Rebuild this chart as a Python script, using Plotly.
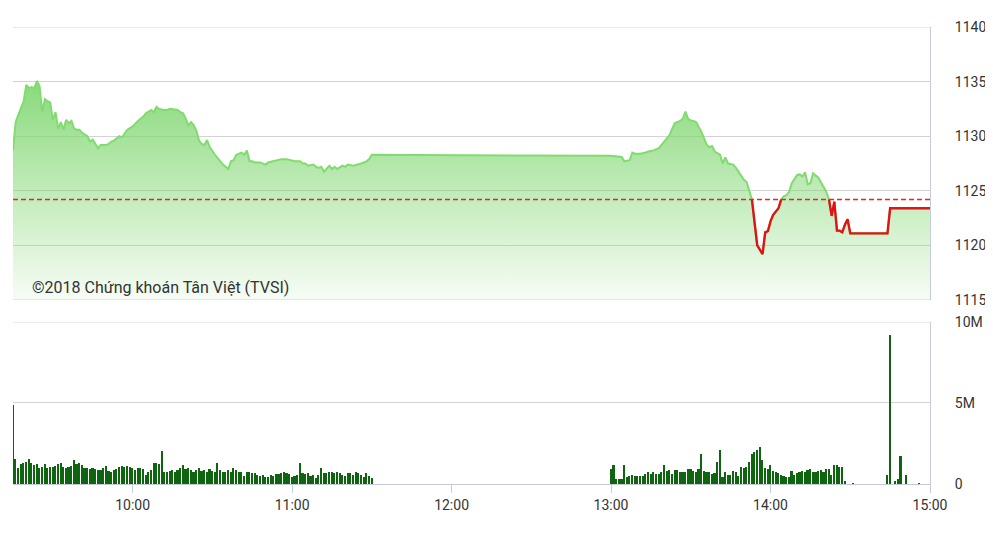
import plotly.graph_objects as go
import pandas as pd

DAY = "2018-06-12"
ref_value = 1124.2

price_times = [
    "09:15", "09:16", "09:18", "09:19", "09:20", "09:21", "09:22", "09:23", "09:24", "09:25",
    "09:26", "09:27", "09:28", "09:29", "09:30", "09:31", "09:32", "09:33", "09:34", "09:35",
    "09:36", "09:37", "09:38", "09:39", "09:40", "09:41", "09:43", "09:44", "09:45", "09:46",
    "09:47", "09:48", "09:50", "09:51", "09:52", "09:53", "09:55", "09:56", "09:57", "09:58",
    "10:00", "10:02", "10:04", "10:05", "10:07", "10:08", "10:09", "10:10", "10:12", "10:13",
    "10:14", "10:15", "10:17", "10:18", "10:19", "10:20", "10:21", "10:22", "10:23", "10:24",
    "10:25", "10:26", "10:27", "10:28", "10:29", "10:31", "10:32", "10:33", "10:34", "10:36",
    "10:37", "10:38", "10:39", "10:41", "10:42", "10:43", "10:44", "10:45", "10:46", "10:48",
    "10:50", "10:51", "10:53", "10:54", "10:56", "10:58", "11:00", "11:01", "11:03", "11:04",
    "11:05", "11:06", "11:08", "11:09", "11:10", "11:11", "11:12", "11:14", "11:15", "11:16",
    "11:17", "11:19", "11:20", "11:21", "11:23", "11:25", "11:26", "11:28", "11:29", "11:30",
    "13:00", "13:04", "13:05", "13:07", "13:08", "13:09", "13:11", "13:13", "13:14", "13:16",
    "13:18", "13:19", "13:20", "13:22", "13:23", "13:24", "13:25", "13:26", "13:27", "13:28",
    "13:29", "13:30", "13:31", "13:32", "13:34", "13:35", "13:36", "13:37", "13:38", "13:39",
    "13:41", "13:42", "13:43", "13:44", "13:46", "13:47", "13:48", "13:49", "13:50", "13:51",
    "13:52", "13:53", "13:54", "13:55", "13:57", "13:58", "13:59", "14:00", "14:01", "14:03",
    "14:04", "14:05", "14:06", "14:07", "14:08", "14:10", "14:11", "14:12", "14:13", "14:14",
    "14:15", "14:16", "14:18", "14:19", "14:20", "14:21", "14:22", "14:23", "14:24", "14:25",
    "14:26", "14:27", "14:28", "14:29", "14:30", "14:44", "14:45", "15:00",
]
price_values = [
    1128.7, 1131.3, 1132.6, 1133.2, 1134.7, 1134.4, 1134.5, 1134.4, 1135.05, 1134.6,
    1132.2, 1133.4, 1133.2, 1133.1, 1131.5, 1132.2, 1130.7, 1131.3, 1130.6, 1131.5,
    1131.2, 1131.4, 1130.7, 1130.6, 1130.6, 1130.3, 1130.0, 1129.5, 1129.7, 1129.3,
    1128.9, 1129.2, 1129.2, 1129.3, 1129.5, 1129.6, 1130.0, 1129.9, 1130.3, 1130.6,
    1130.9, 1131.4, 1131.8, 1132.1, 1132.4, 1132.2, 1132.7, 1132.5, 1132.4, 1132.4,
    1132.5, 1132.45, 1132.4, 1132.2, 1132.1, 1131.6, 1131.0, 1131.3, 1131.0, 1130.5,
    1129.6, 1129.3, 1129.2, 1129.65, 1129.0, 1128.3, 1128.0, 1127.7, 1127.4, 1127.0,
    1127.7, 1127.8, 1128.3, 1128.5, 1128.3, 1128.7, 1127.7, 1127.7, 1127.6, 1127.6,
    1127.4, 1127.6, 1127.7, 1127.8, 1127.9, 1127.9, 1127.8, 1127.7, 1127.7, 1127.5,
    1127.5, 1127.3, 1127.4, 1127.2, 1127.1, 1127.2, 1126.75, 1127.3, 1127.0, 1127.2,
    1127.0, 1127.3, 1127.2, 1127.4, 1127.3, 1127.4, 1127.5, 1127.7, 1127.9, 1128.3,
    1128.2, 1128.1, 1127.7, 1127.8, 1128.5, 1128.4, 1128.4, 1128.5, 1128.6, 1128.7,
    1128.9, 1129.2, 1129.5, 1130.1, 1130.7, 1131.2, 1131.3, 1131.4, 1131.6, 1132.25,
    1131.6, 1131.45, 1131.4, 1131.3, 1130.4, 1129.8, 1129.2, 1129.0, 1129.1, 1128.6,
    1128.3, 1127.5, 1128.07, 1127.5, 1127.4, 1127.1, 1126.75, 1126.3, 1126.0, 1125.8,
    1125.0, 1124.2, 1122.0, 1120.0, 1119.2, 1121.2, 1121.3, 1122.2, 1122.8, 1123.4,
    1124.2, 1124.5, 1124.6, 1124.9, 1125.7, 1126.45, 1126.5, 1126.3, 1126.7, 1125.6,
    1125.7, 1126.6, 1126.2, 1125.8, 1125.3, 1124.9, 1124.2, 1122.7, 1124.0, 1121.35,
    1121.35, 1121.2, 1121.9, 1122.4, 1121.1, 1121.1, 1123.4, 1123.4,
]

# Volume per minute, in millions of shares
morning_start = "09:15"
morning_volume = [
    4.9, 1.52, 0.96, 1.23, 1.31, 1.38, 1.52, 1.27, 1.17, 1.23,
    0.96, 1.02, 1.23, 0.96, 1.06, 1.06, 1.10, 1.23, 1.31, 1.06,
    0.96, 1.02, 1.10, 1.48, 1.23, 1.31, 1.17, 0.96, 0.96, 0.90,
    0.96, 0.90, 0.85, 0.85, 0.96, 1.10, 0.81, 0.75, 0.85, 0.90,
    1.02, 1.10, 1.06, 1.10, 1.02, 0.96, 0.85, 0.96, 0.96, 0.90,
    0.54, 0.75, 0.85, 1.27, 1.27, 1.23, 2.04, 0.75, 0.75, 0.81,
    0.85, 0.75, 0.85, 0.96, 1.17, 0.90, 0.96, 0.85, 0.75, 0.85,
    0.96, 0.81, 0.85, 0.75, 0.90, 0.81, 0.75, 1.31, 0.85, 0.75,
    0.75, 0.85, 0.75, 0.96, 0.85, 0.75, 0.75, 0.48, 0.75, 0.75,
    0.69, 0.69, 0.58, 0.48, 0.54, 0.44, 0.44, 0.54, 0.48, 0.60,
    0.60, 0.65, 0.75, 0.69, 0.60, 0.44, 0.48, 0.54, 1.31, 0.65,
    0.60, 0.69, 0.48, 0.54, 0.40, 0.54, 0.96, 0.65, 0.69, 0.75,
    0.75, 0.69, 0.75, 0.65, 0.54, 0.48, 0.65, 0.69, 0.54, 0.75,
    0.65, 0.54, 0.44, 0.65, 0.48, 0.40,
]
afternoon_start = "13:00"
afternoon_volume = [
    0.94, 1.15, 0.31, 0.31, 0.31, 1.15, 0.42, 0.52, 0.58, 0.52,
    0.52, 0.52, 0.52, 0.63, 0.73, 0.63, 0.73, 0.63, 0.63, 0.73,
    1.15, 0.83, 0.88, 0.63, 0.88, 0.88, 0.73, 0.73, 0.73, 0.94,
    0.94, 0.83, 0.73, 0.94, 1.83, 0.79, 0.73, 0.73, 0.63, 0.67,
    1.35, 2.08, 0.42, 0.73, 0.58, 0.58, 0.79, 0.73, 0.52, 1.08,
    1.00, 1.08, 1.35, 1.88, 1.98, 2.08, 2.29, 1.50, 1.00, 0.94,
    1.15, 0.79, 0.73, 0.67, 0.58, 0.52, 0.42, 0.46, 0.79, 0.58,
    0.67, 0.73, 0.79, 0.73, 0.88, 0.94, 0.73, 0.73, 0.79, 0.88,
    0.73, 0.94, 0.94, 0.58, 1.15, 1.15, 1.08, 1.08, 0.17, 0.0,
    0.0, 0.04,
]
close_times = ["14:44", "14:45", "14:47", "14:48", "14:49", "14:51", "14:56"]
close_volume = [0.58, 9.2, 0.17, 0.31, 1.73, 0.58, 0.05]

tick_hours = ["10:00", "11:00", "12:00", "13:00", "14:00", "15:00"]
price_ticks = [1115, 1120, 1125, 1130, 1135, 1140]
vol_ticks = [0, 5, 10]
vol_tick_text = ["0", "5M", "10M"]
watermark = "©2018 Chứng khoán Tân Việt (TVSI)"

# ---- build series ----
def ts(hm):
    return pd.Timestamp(f"{DAY} {hm}")

px_t = [ts(t) for t in price_times]
red_y = [v if v <= ref_value + 1e-9 else None for v in price_values]

vol_t = (list(pd.date_range(ts(morning_start), periods=len(morning_volume), freq="min"))
         + list(pd.date_range(ts(afternoon_start), periods=len(afternoon_volume), freq="min"))
         + [ts(t) for t in close_times])
vol_v = [v * 1e6 for v in morning_volume + afternoon_volume + close_volume]

fig = go.Figure()

fig.add_trace(go.Scatter(
    x=px_t, y=price_values, mode="lines",
    line=dict(color="#80dc6e", width=2),
    fill="tozeroy",
    fillgradient=dict(type="vertical",
                      colorscale=[[0, "rgba(125,214,110,0.06)"], [1, "rgba(125,214,110,0.92)"]],
                      start=1115, stop=1135.5),
    xaxis="x", yaxis="y", hoverinfo="skip", showlegend=False,
))
fig.add_trace(go.Scatter(
    x=px_t, y=red_y, mode="lines", connectgaps=False,
    line=dict(color="#e01414", width=2.4),
    xaxis="x", yaxis="y", hoverinfo="skip", showlegend=False,
))
fig.add_trace(go.Scatter(
    x=[ts("09:15"), ts("15:00")], y=[ref_value, ref_value], mode="lines",
    line=dict(color="#e8262a", width=1.5, dash="5px,3px"),
    xaxis="x", yaxis="y", hoverinfo="skip", showlegend=False,
))
fig.add_trace(go.Bar(
    x=vol_t, y=vol_v, marker=dict(color="#0f650f", line=dict(width=0)),
    width=60000 * 0.62, xaxis="x", yaxis="y2", hoverinfo="skip", showlegend=False,
))

axis_line = "#c3cbdc"
grid = "#d3d3d3"
tick_font = dict(family="Roboto, Arial, sans-serif", size=14, color="#333333")

# edge gridlines (plotly omits gridlines lying on the plot edges)
edge_lines = []
for yref, yv in [("y", price_ticks[0]), ("y", price_ticks[-1]), ("y2", vol_ticks[-1] * 1e6)]:
    edge_lines.append(dict(type="line", xref="x domain", x0=0, x1=1, yref=yref,
                           y0=yv, y1=yv, line=dict(color=grid, width=1), layer="below"))

# The page body has an 8px margin, so the figure is sized to fit the window.
fig.update_layout(
    width=985, height=550,
    margin=dict(l=5, r=63, t=19, b=74, autoexpand=False),
    paper_bgcolor="white", plot_bgcolor="white",
    bargap=0,
    shapes=edge_lines,
    xaxis=dict(
        type="date", range=[ts("09:15"), ts("15:00")], anchor="y2",
        tickvals=[ts(h) for h in tick_hours], ticktext=tick_hours,
        showgrid=False, zeroline=False, automargin=False,
        showline=True, linecolor=axis_line, linewidth=1,
        ticks="outside", ticklen=8, tickcolor=axis_line, tickwidth=1,
        tickfont=tick_font,
    ),
    yaxis=dict(
        domain=[0.4026, 1.0], range=[1115, 1140], side="right",
        tickvals=price_ticks, showgrid=True, gridcolor=grid, gridwidth=1,
        zeroline=False, showline=True, linecolor=axis_line, automargin=False,
        ticks="outside", ticklen=21, tickcolor="rgba(0,0,0,0)",
        tickfont=tick_font,
    ),
    yaxis2=dict(
        domain=[0.0, 0.3545], range=[0, 10e6], side="right",
        tickvals=[v * 1e6 for v in vol_ticks], ticktext=vol_tick_text,
        showgrid=True, gridcolor=grid, gridwidth=1,
        zeroline=False, showline=True, linecolor=axis_line, automargin=False,
        ticks="outside", ticklen=21, tickcolor="rgba(0,0,0,0)",
        tickfont=tick_font,
    ),
    annotations=[dict(
        text=watermark, xref="paper", yref="paper", x=0.0185, y=0.431,
        xanchor="left", yanchor="middle", showarrow=False,
        font=dict(family="Roboto, Arial, sans-serif", size=16, color="#333333"),
    )],
)

fig.write_html("out.html")
